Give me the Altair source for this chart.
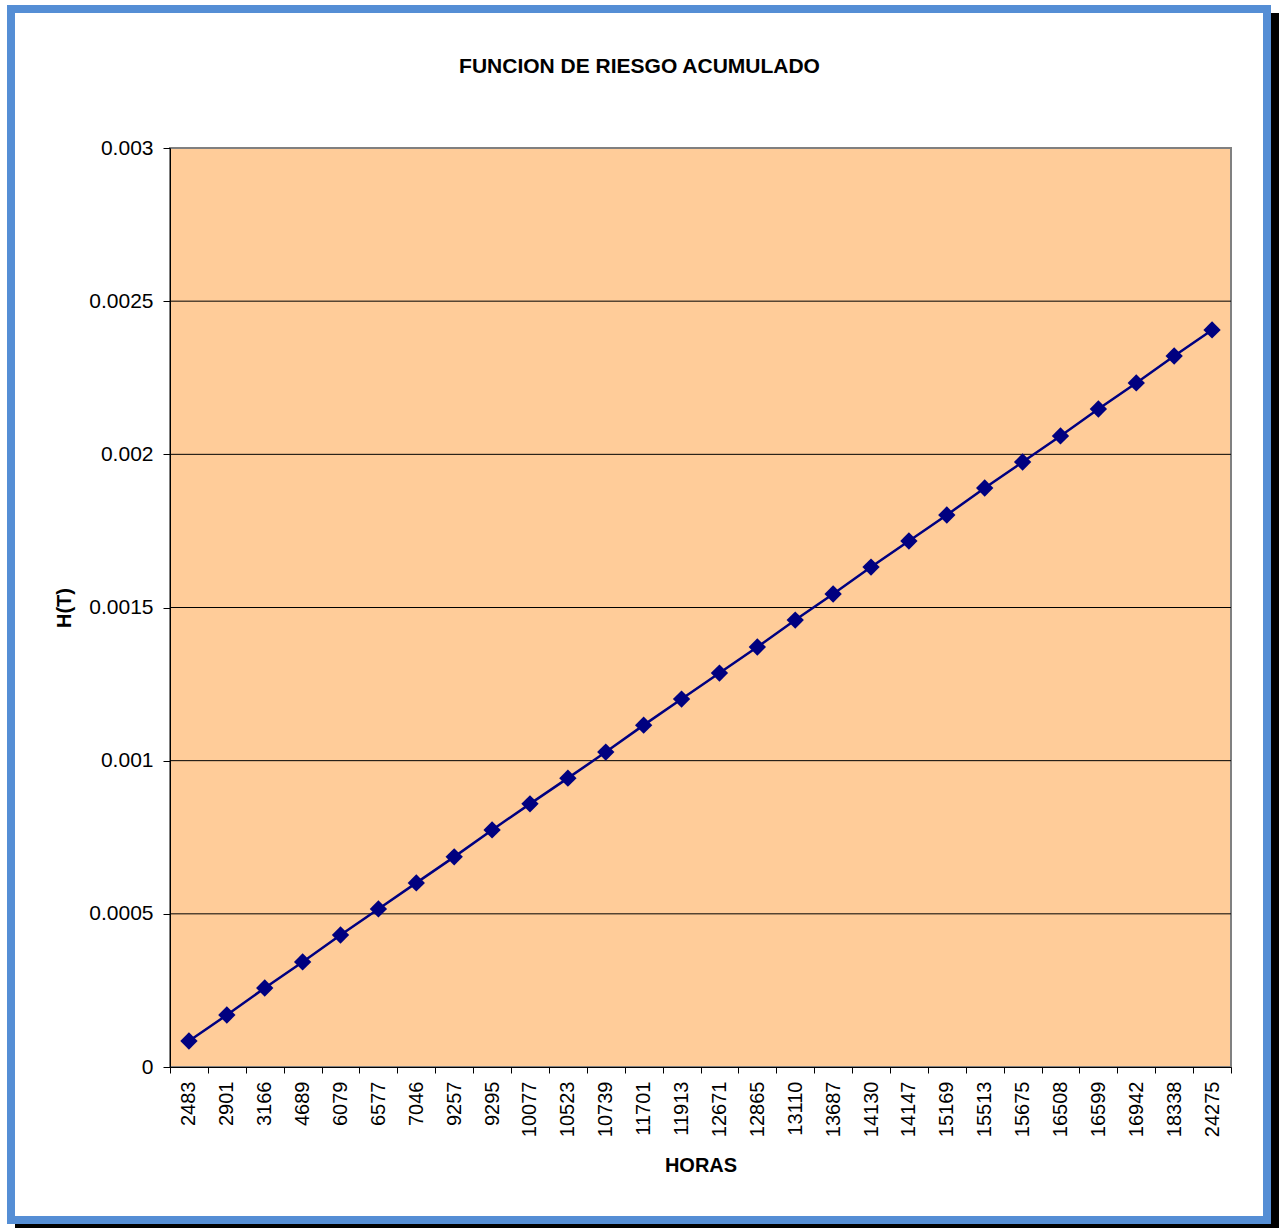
import altair as alt
import pandas as pd

# Operating hours (category labels) and cumulative hazard H(T)
horas = ["2483", "2901", "3166", "4689", "6079", "6577", "7046", "9257", "9295",
         "10077", "10523", "10739", "11701", "11913", "12671", "12865", "13110",
         "13687", "14130", "14147", "15169", "15513", "15675", "16508", "16599",
         "16942", "18338", "24275"]
riesgo = [0.0000849, 0.0001697, 0.000258, 0.000343, 0.000431, 0.000516, 0.000601,
          0.000686, 0.000774, 0.000859, 0.000943, 0.001028, 0.001116, 0.001201,
          0.001286, 0.001371, 0.001459, 0.001544, 0.001632, 0.001717, 0.001802,
          0.00189, 0.001975, 0.00206, 0.002148, 0.002233, 0.002321, 0.002406]
y_ticks = [0, 0.0005, 0.001, 0.0015, 0.002, 0.0025, 0.003]
grid_vals = [0.0005, 0.001, 0.0015, 0.002, 0.0025]
titulo = "FUNCION DE RIESGO ACUMULADO"

df = pd.DataFrame({"HORAS": horas, "H": riesgo})
grid_df = pd.DataFrame({"H": grid_vals})
one = pd.DataFrame({"k": [0]})

W, H = 1061, 919
FONT = "Liberation Sans"
NAVY = "#000080"

x_enc = alt.X(
    "HORAS:O", sort=None, bandPosition=0.5,
    scale=alt.Scale(type="band", paddingInner=0, paddingOuter=0),
    axis=alt.Axis(title="HORAS", labelAngle=-90, labelAlign="right",
                  labelBaseline="middle", tickBand="extent", tickSize=6,
                  labelPadding=8, labelFontSize=20, titleFontSize=20,
                  titleFontWeight="bold", titlePadding=19, domainColor="black",
                  tickColor="black", labelColor="black", titleColor="black",
                  grid=False, zindex=1, labelFont=FONT, titleFont=FONT),
)
y_scale = alt.Scale(domain=[0, 0.003], nice=False, zero=True)
y_axis = alt.Axis(title="H(T)", values=y_ticks, format="~g", tickSize=7,
                  labelPadding=10, labelFontSize=21, titleFontSize=20,
                  titleFontWeight="bold", titlePadding=14, domainColor="black",
                  tickColor="black", labelColor="black", titleColor="black",
                  grid=False, zindex=1, labelFont=FONT, titleFont=FONT)
y_enc = alt.Y("H:Q", scale=y_scale, axis=y_axis)

# Drop shadow and blue frame around the whole figure
shadow = alt.Chart(one).mark_rect(color="black", clip=False).encode(
    x=alt.value(-155), x2=alt.value(1109), y=alt.value(-135), y2=alt.value(1080))
frame = alt.Chart(one).mark_rect(fill="white", stroke="#558ED5", strokeWidth=8,
                                 clip=False).encode(
    x=alt.value(-159), x2=alt.value(1097), y=alt.value(-139), y2=alt.value(1072))
# Chart title, centred on the frame
title_txt = alt.Chart(one).mark_text(
    text=titulo, font=FONT, fontSize=21, fontWeight="bold", color="black",
    align="center", baseline="alphabetic", clip=False).encode(
    x=alt.value(W / 2 - 61), y=alt.value(-75))
# Plot area background
plot_bg = alt.Chart(one).mark_rect(fill="#FFCC99", stroke="#808080",
                                   strokeWidth=2).encode(
    x=alt.value(0), x2=alt.value(W), y=alt.value(0), y2=alt.value(H))

gridlines = alt.Chart(grid_df).mark_rule(color="black", strokeWidth=1).encode(
    y=y_enc, x=alt.value(0), x2=alt.value(W))

line = alt.Chart(df).mark_line(color=NAVY, strokeWidth=2.5).encode(x=x_enc, y=y_enc)
pts = alt.Chart(df).mark_point(shape="diamond", filled=True, color=NAVY,
                               size=300, opacity=1).encode(x=x_enc, y=y_enc)

chart = alt.layer(shadow, frame, title_txt, plot_bg, gridlines, line, pts).properties(
    width=W, height=H,
    autosize=alt.AutoSizeParams(type="none"),
    padding={"left": 170, "top": 148, "right": 57, "bottom": 161},
    background="white",
).configure_view(stroke=None)

chart.save("out.html", embed_options={"renderer": "svg", "actions": False})
